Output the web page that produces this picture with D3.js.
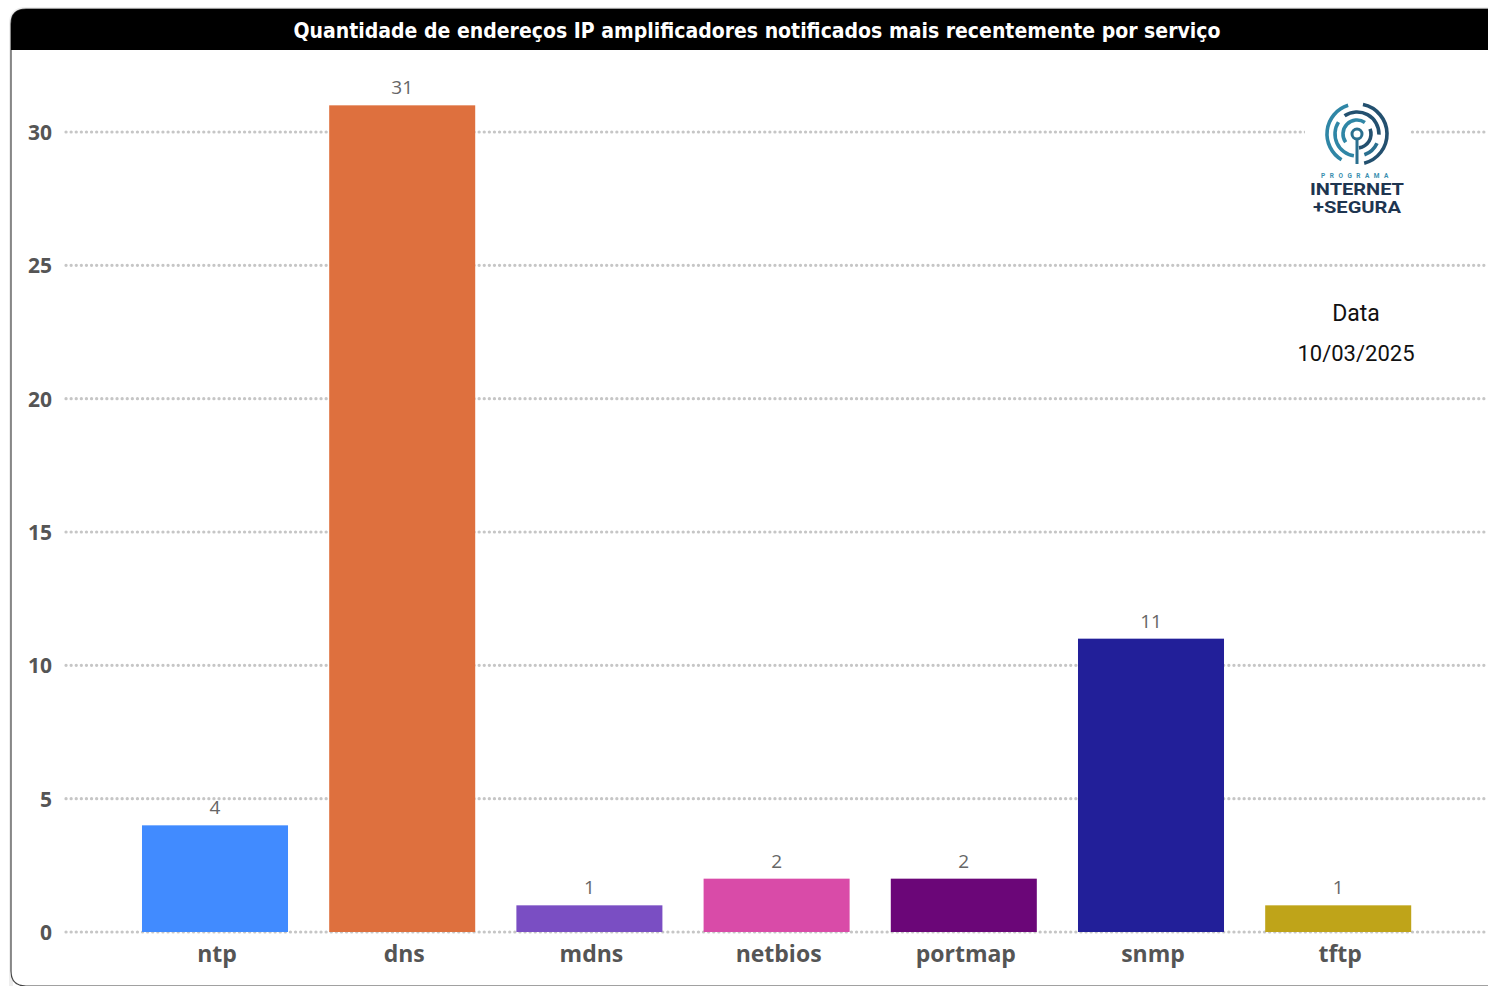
<!DOCTYPE html>
<html><head><meta charset="utf-8">
<script src="https://cdn.jsdelivr.net/npm/d3@7"></script>
<style>html,body{margin:0;padding:0;background:#fff;overflow:hidden}</style>
</head><body>
<svg id="chart" width="1488" height="986"></svg>
<script>
const categories = ["ntp","dns","mdns","netbios","portmap","snmp","tftp"];
const values = [4,31,1,2,2,11,1];
const colors = ["#418BFF","#DE703E","#7A4EC3","#D94BA8","#6B0678","#221F99","#BFA419"];
const yTicks = [0,5,10,15,20,25,30];
const title = "Quantidade de endereços IP amplificadores notificados mais recentemente por serviço";
const dateLabel = "Data";
const dateValue = "10/03/2025";

const svg = d3.select("#chart");

// card with soft shadow
svg.append("path")
  .attr("d","M11,970 L11,24 Q11,9 26,9 L1490,9 L1490,1000 L26,1000 Q11,1000 11,985 Z")
  .attr("fill","none").attr("stroke","#eee").attr("stroke-width",4);
svg.append("path")
  .attr("d","M11,970 L11,24 Q11,9 26,9 L1490,9 L1490,986 L26,986 Q11,986 11,971 Z")
  .attr("fill","#fff").attr("stroke","#444").attr("stroke-width",1.2);
svg.append("path")
  .attr("d","M11,50 L11,24 Q11,9 26,9 L1490,9 L1490,50 Z")
  .attr("fill","#000");
svg.append("text").attr("x",757).attr("y",38).attr("text-anchor","middle")
  .attr("font-family","'DejaVu Sans Condensed', Roboto, sans-serif").attr("font-weight","bold")
  .attr("font-size",22).attr("fill","#fff")
  .attr("textLength",927).attr("lengthAdjust","spacingAndGlyphs")
  .text(title);

const y = d3.scaleLinear().domain([0,30]).range([932,132]);
const x = d3.scaleBand().domain(categories).range([121.4,1431.8]).paddingInner(0.22).paddingOuter(0.11);

// gridlines
const grid = svg.append("g");
grid.selectAll("line").data(yTicks).join("line")
  .attr("x1",66).attr("x2",1488).attr("y1",d=>y(d)).attr("y2",d=>y(d))
  .attr("stroke","#c6c6c6").attr("stroke-width",3.2)
  .attr("stroke-dasharray","0.1 5").attr("stroke-linecap","round");

// y axis labels
const yAxis = d3.axisLeft(y).tickValues(yTicks).tickSize(0).tickPadding(0);
const ya = svg.append("g").attr("transform","translate(52,0)").call(yAxis);
ya.select(".domain").remove();
ya.selectAll("text").attr("font-family","'Open Sans', sans-serif").attr("font-weight","bold")
  .attr("font-size",21).attr("fill","#555").attr("dy","0.35em");

// bars
svg.append("g").selectAll("rect").data(categories).join("rect")
  .attr("x",d=>x(d)).attr("width",x.bandwidth())
  .attr("y",(d,i)=>y(values[i])).attr("height",(d,i)=>y(0)-y(values[i]))
  .attr("fill",(d,i)=>colors[i]);

// value labels
svg.append("g").selectAll("text").data(categories).join("text")
  .attr("x",d=>x(d)+x.bandwidth()/2).attr("y",(d,i)=>y(values[i])-11)
  .attr("text-anchor","middle").attr("font-family","'Open Sans', sans-serif")
  .attr("font-size",19).attr("fill","#666")
  .text((d,i)=>values[i]);

// x axis labels
const xAxis = d3.axisBottom(x).tickSize(0).tickPadding(0);
const xa = svg.append("g").attr("transform","translate(2,932)").call(xAxis);
xa.select(".domain").remove();
xa.selectAll("text").attr("font-family","'Open Sans', sans-serif").attr("font-weight","bold")
  .attr("font-size",23).attr("fill","#555").attr("dy","1.3em").attr("y",0);

// logo
const logo = svg.append("g").attr("transform","translate(1357,134)");
logo.append("rect").attr("x",-52).attr("y",-36).attr("width",104).attr("height",90).attr("fill","#fff");
const arcs = [
  {r:30, a0:-2.6, a1:-0.3, c:"#2f86a6"},
  {r:30, a0:0.2, a1:2.9, c:"#23506f"},
  {r:22, a0:-3.0, a1:-1.0, c:"#2f86a6"},
  {r:22, a0:-0.6, a1:1.6, c:"#23506f"},
  {r:22, a0:2.0, a1:2.8, c:"#2a6f8f"},
  {r:14, a0:-2.2, a1:0.6, c:"#2f86a6"},
  {r:14, a0:1.2, a1:3.0, c:"#23506f"}
];
const arcGen = d3.arc();
logo.selectAll("path").data(arcs).join("path")
  .attr("d",d=>arcGen({innerRadius:d.r-1.8,outerRadius:d.r+1.8,startAngle:d.a0,endAngle:d.a1}))
  .attr("fill",d=>d.c);
logo.append("circle").attr("r",5).attr("fill","none").attr("stroke","#2a6f8f").attr("stroke-width",3);
logo.append("line").attr("x1",0).attr("x2",0).attr("y1",5).attr("y2",30).attr("stroke","#2a6f8f").attr("stroke-width",3);
logo.append("text").attr("x",0).attr("y",44).attr("text-anchor","middle")
  .attr("font-family","Roboto, sans-serif").attr("font-size",6.5).attr("font-weight","bold")
  .attr("fill","#3a8fb0").attr("letter-spacing",4.5).text("PROGRAMA");
logo.append("text").attr("x",0).attr("y",61).attr("text-anchor","middle")
  .attr("font-family","Roboto, sans-serif").attr("font-size",16).attr("font-weight","bold")
  .attr("fill","#1e3550").attr("textLength",94).attr("lengthAdjust","spacingAndGlyphs").text("INTERNET");
logo.append("text").attr("x",0).attr("y",79).attr("text-anchor","middle")
  .attr("font-family","Roboto, sans-serif").attr("font-size",16).attr("font-weight","bold")
  .attr("fill","#1e3550").attr("textLength",88).attr("lengthAdjust","spacingAndGlyphs").text("+SEGURA");

// date
svg.append("text").attr("x",1356).attr("y",321).attr("text-anchor","middle")
  .attr("font-family","Roboto, sans-serif").attr("font-size",23).attr("fill","#111").text(dateLabel);
svg.append("text").attr("x",1356).attr("y",361).attr("text-anchor","middle")
  .attr("font-family","Roboto, sans-serif").attr("font-size",22).attr("fill","#111").text(dateValue);
</script>
</body></html>
